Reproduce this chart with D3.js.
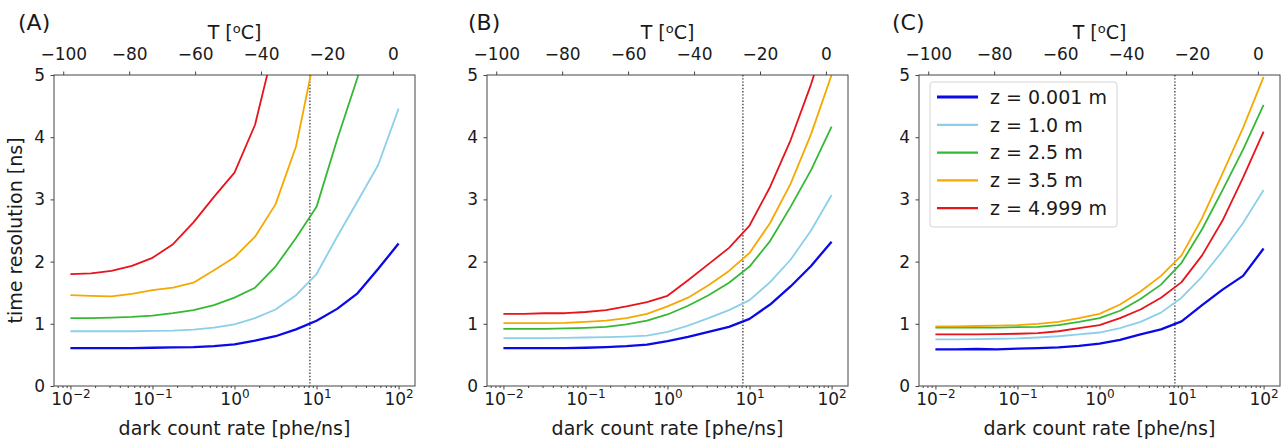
<!DOCTYPE html>
<html><head><meta charset="utf-8">
<script src="https://cdn.jsdelivr.net/npm/d3@7"></script>
<style>body{margin:0;background:#fff}svg{display:block;font-family:"DejaVu Sans",sans-serif}</style>
</head><body><svg id="c" width="1288" height="441"></svg>
<script>
// ---------------- data ----------------
const darkCountRate = [0.01,0.0178,0.0316,0.0562,0.1,0.178,0.316,0.562,1,1.78,3.16,5.62,10,17.8,31.6,56.2,100];
const seriesLabels = ["z = 0.001 m","z = 1.0 m","z = 2.5 m","z = 3.5 m","z = 4.999 m"];
const seriesColors = ["#0a0ae6","#8ccfea","#35b935","#f5a800","#e8141c"];
const panelLabels = ["(A)","(B)","(C)"];

const panelA_z0001 = [0.61,0.61,0.61,0.61,0.615,0.62,0.625,0.64,0.67,0.73,0.80,0.91,1.05,1.24,1.49,1.88,2.29];
const panelA_z1    = [0.88,0.88,0.88,0.88,0.885,0.89,0.905,0.94,0.99,1.09,1.23,1.46,1.80,2.40,2.97,3.55,4.46];
const panelA_z25   = [1.09,1.09,1.10,1.11,1.13,1.17,1.22,1.30,1.42,1.58,1.92,2.38,2.88,3.96,4.96,6.2,7.5];
const panelA_z35   = [1.46,1.45,1.44,1.48,1.54,1.58,1.66,1.86,2.07,2.40,2.92,3.85,5.45,7.0,8.5,10,12];
const panelA_z5    = [1.80,1.81,1.85,1.93,2.06,2.28,2.63,3.04,3.43,4.20,5.55,7.0,8.5,10,12,14,16];

const panelB_z0001 = [0.61,0.61,0.61,0.61,0.615,0.625,0.64,0.665,0.72,0.79,0.87,0.95,1.08,1.31,1.60,1.93,2.32];
const panelB_z1    = [0.77,0.77,0.77,0.775,0.78,0.785,0.795,0.81,0.87,0.97,1.09,1.22,1.38,1.67,2.03,2.50,3.07];
const panelB_z25   = [0.92,0.92,0.92,0.925,0.935,0.95,0.99,1.05,1.15,1.29,1.46,1.66,1.92,2.33,2.88,3.47,4.17];
const panelB_z35   = [1.01,1.01,1.01,1.015,1.03,1.05,1.09,1.16,1.28,1.42,1.62,1.85,2.14,2.62,3.25,4.05,5.0];
const panelB_z5    = [1.16,1.16,1.17,1.17,1.19,1.22,1.28,1.35,1.45,1.70,1.96,2.22,2.58,3.20,3.95,4.85,5.9];

const panelC_z0001 = [0.59,0.59,0.595,0.59,0.60,0.61,0.62,0.645,0.68,0.74,0.83,0.91,1.04,1.30,1.55,1.77,2.21];
const panelC_z1    = [0.75,0.75,0.755,0.76,0.765,0.78,0.80,0.83,0.86,0.93,1.03,1.18,1.42,1.76,2.17,2.62,3.15];
const panelC_z25   = [0.94,0.94,0.94,0.94,0.945,0.95,0.98,1.03,1.09,1.21,1.40,1.63,1.98,2.52,3.15,3.80,4.52];
const panelC_z35   = [0.96,0.96,0.965,0.97,0.98,1.00,1.03,1.09,1.16,1.31,1.52,1.77,2.10,2.70,3.42,4.15,4.97];
const panelC_z5    = [0.83,0.83,0.83,0.835,0.84,0.85,0.88,0.93,0.98,1.09,1.23,1.42,1.67,2.10,2.66,3.35,4.09];

const xDomain = [Math.pow(10,-2.2), Math.pow(10,2.2)];
const xTickValues = [0.01,0.1,1,10,100];
const xTickExponents = ["−2","−1","0","1","2"];
const topDomain = [-102.8, 6.7];
const topTickValues = [-100,-80,-60,-40,-20,0];
const yDomain = [0,5];
const yTickValues = [0,1,2,3,4,5];
const markerDarkCount = 8.3;

const panelSeries = [
  [panelA_z0001,panelA_z1,panelA_z25,panelA_z35,panelA_z5],
  [panelB_z0001,panelB_z1,panelB_z25,panelB_z35,panelB_z5],
  [panelC_z0001,panelC_z1,panelC_z25,panelC_z35,panelC_z5]
];

// ---------------- layout ----------------
const svg = d3.select("#c");
const plotTop = 75, plotBottom = 386;
const panels = [
  {left:54, right:415, labelX:18},
  {left:487, right:848, labelX:468},
  {left:919, right:1280, labelX:892}
];
const txt = "#1a1a1a", spine = "#444";

// minor ticks for log axis
const minor = [];
for (let e = -3; e <= 2; e++) for (let m = 2; m <= 9; m++) {
  const v = m * Math.pow(10, e);
  if (v >= xDomain[0] && v <= xDomain[1]) minor.push(v);
}

const y = d3.scaleLinear().domain(yDomain).range([plotBottom, plotTop]);

panels.forEach((p, pi) => {
  const x = d3.scaleLog().domain(xDomain).range([p.left, p.right]);
  const xt = d3.scaleLinear().domain(topDomain).range([p.left, p.right]);
  const g = svg.append("g");

  const clipId = "clip" + pi;
  svg.append("clipPath").attr("id", clipId).append("rect")
    .attr("x", p.left).attr("y", plotTop).attr("width", p.right - p.left).attr("height", plotBottom - plotTop);

  // dotted marker line
  g.append("line")
    .attr("x1", x(markerDarkCount)).attr("x2", x(markerDarkCount))
    .attr("y1", plotTop).attr("y2", plotBottom)
    .attr("stroke", "#333").attr("stroke-width", 1.3).attr("stroke-dasharray", "1.4,1.8");

  // curves
  const line = d3.line().x((d, i) => x(darkCountRate[i])).y(d => y(d));
  [0,1,2,3,4].forEach(si => {
    g.append("path").datum(panelSeries[pi][si])
      .attr("clip-path", "url(#" + clipId + ")")
      .attr("fill", "none").attr("stroke", seriesColors[si])
      .attr("stroke-width", si === 0 ? 2.3 : 1.8)
      .attr("stroke-linejoin", "round")
      .attr("d", line);
  });

  // frame
  g.append("rect").attr("x", p.left).attr("y", plotTop)
    .attr("width", p.right - p.left).attr("height", plotBottom - plotTop)
    .attr("fill", "none").attr("stroke", spine).attr("stroke-width", 1);

  // bottom axis (major)
  const bx = g.append("g").attr("transform", `translate(0,${plotBottom})`)
    .call(d3.axisBottom(x).tickValues(xTickValues).tickSize(3.5).tickFormat(() => ""));
  bx.select(".domain").remove();
  bx.selectAll("line").attr("stroke", spine);
  bx.selectAll(".tick").each(function(d, i) {
    const t = d3.select(this).select("text")
      .attr("y", 19).attr("dy", null)
      .attr("fill", txt).attr("font-size", 17).attr("text-anchor", "middle");
    t.text(null);
    t.append("tspan").text("10");
    t.append("tspan").attr("dy", -7).attr("font-size", 12).text(xTickExponents[i]);
  });
  // bottom axis minor
  const bm = g.append("g").attr("transform", `translate(0,${plotBottom})`)
    .call(d3.axisBottom(x).tickValues(minor).tickSize(2).tickFormat(() => ""));
  bm.select(".domain").remove();
  bm.selectAll("line").attr("stroke", spine);

  // top axis
  const tx = g.append("g").attr("transform", `translate(0,${plotTop})`)
    .call(d3.axisTop(xt).tickValues(topTickValues).tickSize(3.5).tickPadding(11.5)
      .tickFormat(d => d3.format("d")(d).replace("-", "−")));
  tx.select(".domain").remove();
  tx.selectAll("line").attr("stroke", spine);
  tx.selectAll("text").attr("fill", txt).attr("font-size", 17);

  // left axis
  const ly = g.append("g").attr("transform", `translate(${p.left},0)`)
    .call(d3.axisLeft(y).tickValues(yTickValues).tickSize(3.5).tickPadding(5.5).tickFormat(d3.format("d")));
  ly.select(".domain").remove();
  ly.selectAll("line").attr("stroke", spine);
  ly.selectAll("text").attr("fill", txt).attr("font-size", 17);

  [bx, bm, tx, ly].forEach(a => a.attr("font-family", null).attr("font-size", null));

  // axis labels
  const cx = (p.left + p.right) / 2;
  g.append("text").attr("x", cx).attr("y", 435).attr("text-anchor", "middle")
    .attr("font-size", 19).attr("fill", txt).text("dark count rate [phe/ns]");
  const tl = g.append("text").attr("x", cx).attr("y", 39).attr("text-anchor", "middle")
    .attr("font-size", 19).attr("fill", txt);
  tl.append("tspan").text("T [");
  tl.append("tspan").attr("dy", -6).attr("font-size", 13).text("o");
  tl.append("tspan").attr("dy", 6).text("C]");

  g.append("text").attr("x", p.labelX).attr("y", 30).attr("font-size", 22)
    .attr("fill", txt).text(panelLabels[pi]);

  if (pi === 0) {
    g.append("text").attr("transform", `translate(22,${(plotTop + plotBottom) / 2}) rotate(-90)`)
      .attr("text-anchor", "middle").attr("font-size", 19).attr("fill", txt)
      .text("time resolution [ns]");
  }

  if (pi === 2) {
    const lg = g.append("g");
    lg.append("rect").attr("x", 930).attr("y", 82).attr("width", 187).attr("height", 145)
      .attr("rx", 3).attr("fill", "#fff").attr("fill-opacity", 0.85)
      .attr("stroke", "#d4d4d4").attr("stroke-width", 1);
    seriesLabels.forEach((lab, si) => {
      const yy = 97 + si * 27.8;
      lg.append("line").attr("x1", 937).attr("x2", 978).attr("y1", yy).attr("y2", yy)
        .attr("stroke", seriesColors[si]).attr("stroke-width", si === 0 ? 3.2 : 2.2);
      lg.append("text").attr("x", 990).attr("y", yy).attr("dy", "0.36em")
        .attr("font-size", 19).attr("fill", txt).text(lab);
    });
  }
});
</script></body></html>
